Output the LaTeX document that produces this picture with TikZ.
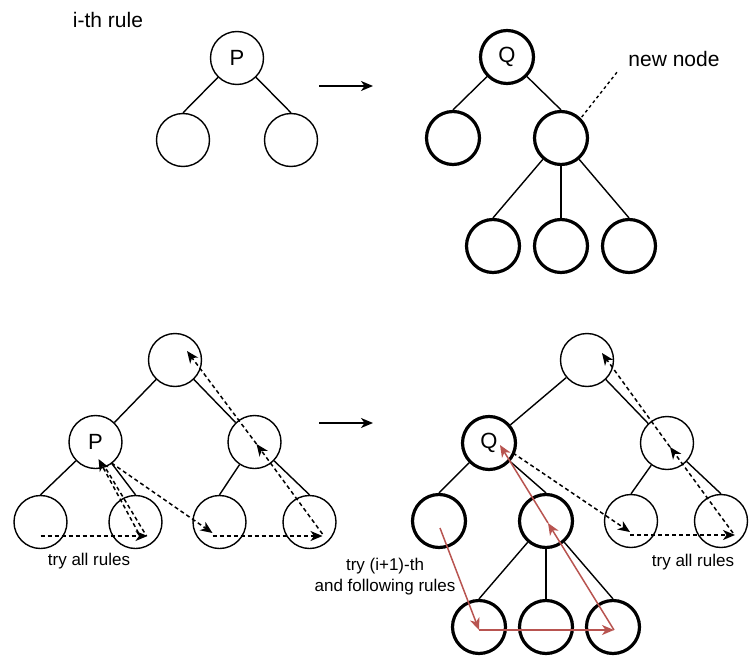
\documentclass[tikz,border=0pt]{standalone}
\usepackage{fontspec}
\setmainfont{Liberation Sans}
\usepackage{xcolor}
\usepackage{tikz}
\usetikzlibrary{arrows.meta, calc}
\definecolor{ruleRed}{HTML}{B85450}

\begin{document}
\begin{tikzpicture}[x=1pt, y=-1pt, level distance=82pt, sibling distance=108pt,
  vertex/.style={circle, draw, minimum size=53pt, inner sep=0, line width=1.4pt,
    font=\fontsize{22}{26}\selectfont},
  bold vertex/.style={vertex, line width=3.2pt},
  every child node/.style={vertex},
  edge from parent/.style={draw, line width=1.4pt},
  to north/.style={edge from parent path={(\tikzparentnode) -- (\tikzchildnode.north)}},
  flow/.style={-{Stealth[length=12pt, width=10pt, inset=3.5pt]}, line width=1.5pt},
  trace/.style={flow, dash pattern=on 4pt off 3pt},
  redtrace/.style={flow, draw=ruleRed},
  big text/.style={font=\fontsize{21}{25}\selectfont},
  small text/.style={font=\fontsize{17}{21}\selectfont, align=center}]
  \useasboundingbox (0,0) rectangle (749,658);

  % i-th rule, left side
  \node[big text] (title) at (108,20) {i-th rule};
  \node[vertex] (p) at (237,58) {P} [level 1/.style={to north}]
    child {node (pl) {}}
    child {node (pr) {}};

  % i-th rule, right side
  \node[bold vertex] (q) at (507,57) {Q}
    [level 1/.style={to north, level distance=81pt},
     level 2/.style={level distance=108pt, sibling distance=68pt}]
    child {node[bold vertex] (ql) {}}
    child {node[bold vertex] (qn) {}
      child {node[bold vertex] (qa) {}}
      child {node[bold vertex] (qb) {}}
      child {node[bold vertex] (qc) {}}
    };
  \node[big text] (newlbl) at (674,59) {new node};
  \draw[line width=1.4pt, dash pattern=on 3pt off 3pt] ($(newlbl.south west)+(-8,2)$) -- (qn.45);

  \coordinate (top from) at (319,86);
  \coordinate (top to) at (373,86);
  \draw[flow] (top from) -- (top to);

  % Tree before the rule
  \node[vertex] (a) at (175,360) {}
    [level 1/.style={sibling distance=159pt},
     level 2/.style={to north, level distance=80pt}]
    child {node (ap) {P}
      child[sibling distance=110pt] {node (aLL) {}}
      child[sibling distance=80pt] {node (aLR) {}}
    }
    child {node (aR) {}
      child[sibling distance=70pt] {node (aRL) {}}
      child[sibling distance=110pt] {node (aRR) {}}
    };

  % search order
  \draw[trace] ($(aLL)+(0,14)$) -- ($(aLR)+(12,14)$);
  \draw[trace] ($(aLR)+(3,11)$) -- ($(ap)+(3,17)$);
  \draw[line width=1.5pt, dash pattern=on 4pt off 3pt] ($(ap)+(7,21)$) -- ($(aLR)+(11,14)$);
  \draw[trace] ($(ap)+(16,21)$) -- ($(aRL)+(-7,11)$);
  \draw[trace] ($(aRL)+(-7,14)$) -- ($(aRR)+(13,14)$);
  \draw[trace] ($(aRR)+(13,12)$) -- ($(aR)+(2,2)$);
  \draw[trace] ($(aR)+(2,2)$) -- ($(a)+(12,-9)$);
  \node[small text] (left try) at (89,561) {try all rules};

  \coordinate (bottom from) at (319,423);
  \coordinate (bottom to) at (373,423);
  \draw[flow] (bottom from) -- (bottom to);

  % Tree after the rule
  \node[vertex] (b) at (587,360) {}
    [level 1/.style={level distance=83pt},
     level 2/.style={to north, level distance=78pt},
     level 3/.style={level distance=106pt, sibling distance=67pt}]
    child[sibling distance=196pt] {node[bold vertex] (bq) {Q}
      child[sibling distance=100pt] {node[bold vertex] (bql) {}}
      child[sibling distance=114pt] {node[bold vertex] (bn) {}
        child {node[bold vertex] (bx) {}}
        child {node[bold vertex] (by) {}}
        child {node[bold vertex] (bz) {}}
      }
    }
    child[sibling distance=160pt] {node (bR) {}
      child[sibling distance=72pt] {node (bRL) {}}
      child[sibling distance=108pt] {node (bRR) {}}
    };

  % search order
  \draw[redtrace] ($(bql)+(1,7)$) -- ($(bx)+(0,3)$);
  \draw[redtrace] ($(bx)+(0,3)$) -- ($(bz)+(1,3)$);
  \draw[redtrace] ($(bz)+(1,3)$) -- ($(bn)+(2,2)$);
  \draw[redtrace] ($(bn)+(2,2)$) -- ($(bq)+(11,2)$);
  \draw[trace] ($(bq)+(24,10)$) -- ($(bRL)+(-1,11)$);
  \draw[trace] ($(bRL)+(-1,14)$) -- ($(bRR)+(14,14)$);
  \draw[trace] ($(bRR)+(12,12)$) -- ($(bR)+(3,4)$);
  \draw[trace] ($(bR)+(3,4)$) -- ($(b)+(15,-7)$);
  \node[small text] (next try) at (385,577) {try (i+1)-th\\and following rules};
  \node[small text] (right try) at (693,562) {try all rules};
\end{tikzpicture}
\end{document}
